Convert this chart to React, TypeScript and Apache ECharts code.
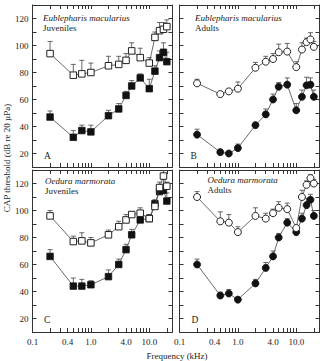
import React, { useEffect, useRef } from "react";
import * as echarts from "echarts";

// Stimulus frequencies (kHz), shared by every curve
const frequencies = [0.2, 0.5, 0.7, 1, 2, 3, 4, 5, 7, 10, 12.5, 15, 17.5, 20];

// Eublepharis macularius, juveniles
const eubJuvOpen = [94, 78, 79, 80, 85, 86, 89, 96, 91, 87, 106, 111, 112, 114];
const eubJuvOpenErr = [9, 8, 10, 7, 7, 6, 5, 6, 7, 4, 4, 6, 5, 5];
const eubJuvFilled = [47, 32, 37, 36, 48, 53, 63, 70, 76, 68, 81, 91, 95, 88];
const eubJuvFilledErr = [4.5, 5, 4, 5, 4, 4, 3, 4, 3, 7, 4, 5, 7, 7];

// Eublepharis macularius, adults
const eubAdOpen = [72, 64, 66, 68, 83.5, 88, 90, 95, 95.5, 84, 97, 102.5, 104.5, 99];
const eubAdOpenErr = [3, 0, 0, 5, 4, 4, 4, 6, 6, 4, 5, 3, 5, 4];
const eubAdFilled = [34, 21, 20, 24, 41, 49, 60, 69.5, 71, 52, 62, 70.5, 71, 62];
const eubAdFilledErr = [4, 0, 0, 3, 0, 4, 4, 3, 5, 5, 5, 6, 5, 5];

// Oedura marmorata, juveniles
const oedJuvOpen = [96, 77, 77.5, 76, 82, 88, 93, 97, 98, 94, 103, 117, 125.5, 118];
const oedJuvOpenErr = [4, 4, 6, 4, 3.5, 4, 4, 2, 4, 3, 3, 4, 4, 3];
const oedJuvFilled = [66, 44, 44, 45, 51, 60, 71, 82, 93, 94, 105, 114, 115, 107];
const oedJuvFilledErr = [5, 6, 5, 3, 5, 4, 4, 4, 3, 3, 3, 3, 8, 6];

// Oedura marmorata, adults
const oedAdOpen = [110, 92, 91, 84, 96, 94, 98, 102, 101, 87, 110, 119, 124, 120];
const oedAdOpenErr = [4, 7, 6, 4, 6, 4, 3, 4.5, 4.5, 0, 5, 3, 2.5, 3];
const oedAdFilled = [60, 37, 38.5, 34, 46, 57.5, 66, 80, 91, 84, 94, 104, 108, 96];
const oedAdFilledErr = [4, 2.5, 3, 0, 3, 4, 4, 3, 3, 0, 4, 5, 4, 4];

// Axis ticks and labels
const xMinKHz = 0.1;
const xMaxKHz = 25;
const xLabelKHz = [0.1, 0.4, 1, 4, 10];
const xTickKHz = [
  0.2, 0.3, 0.4, 0.5, 0.6, 0.7, 0.8, 0.9, 1, 2, 3, 4, 5, 6, 7, 8, 9, 10, 20,
];
const yMin = 10;
const yMax = 130;
const yLabelValues = [20, 40, 60, 80, 100, 120];

const SERIF = '"Liberation Serif", "DejaVu Serif", serif';
const INK = "#222";
const LINE = "#444";

const panels = [
  {
    species: "Eublepharis macularius", stage: "Juveniles", letter: "A",
    symbol: "rect", open: eubJuvOpen, openErr: eubJuvOpenErr,
    filled: eubJuvFilled, filledErr: eubJuvFilledErr,
    grid: { left: 32.5, top: 5, width: 140, height: 162 },
    textX: 43, textY: 17.5, letterX: 44, letterY: 156,
  },
  {
    species: "Eublepharis macularius", stage: "Adults", letter: "B",
    symbol: "circle", open: eubAdOpen, openErr: eubAdOpenErr,
    filled: eubAdFilled, filledErr: eubAdFilledErr,
    grid: { left: 179.5, top: 5, width: 140, height: 162 },
    textX: 195, textY: 17.5, letterX: 190.5, letterY: 156,
  },
  {
    species: "Oedura marmorata", stage: "Juveniles", letter: "C",
    symbol: "rect", open: oedJuvOpen, openErr: oedJuvOpenErr,
    filled: oedJuvFilled, filledErr: oedJuvFilledErr,
    grid: { left: 32.5, top: 170, width: 140, height: 162 },
    textX: 45, textY: 180.5, letterX: 44, letterY: 320,
  },
  {
    species: "Oedura marmorata", stage: "Adults", letter: "D",
    symbol: "circle", open: oedAdOpen, openErr: oedAdOpenErr,
    filled: oedAdFilled, filledErr: oedAdFilledErr,
    grid: { left: 179.5, top: 170, width: 140, height: 162 },
    textX: 207.5, textY: 180, letterX: 191.5, letterY: 320,
  },
];

const lg = (v: number) => Math.log10(v);

// Upward-only error bar with a short cap
function errorBarRenderer(params: any, api: any) {
  const x = api.value(0);
  const y = api.value(1);
  const e = api.value(2);
  if (!e) return { type: "group", children: [] };
  const p0 = api.coord([x, y]);
  const p1 = api.coord([x, y + e]);
  const style = { stroke: LINE, lineWidth: 0.8 };
  return {
    type: "group",
    children: [
      { type: "line", shape: { x1: p0[0], y1: p0[1], x2: p1[0], y2: p1[1] }, style },
      { type: "line", shape: { x1: p1[0] - 2.5, y1: p1[1], x2: p1[0] + 2.5, y2: p1[1] }, style },
    ],
  };
}

function buildOption() {
  const grid: any[] = [];
  const xAxis: any[] = [];
  const yAxis: any[] = [];
  const series: any[] = [];
  const graphic: any[] = [];

  const axisLine = { show: true, onZero: false, lineStyle: { color: "#333", width: 1 } };
  const tick = { show: true, inside: true, length: 4, lineStyle: { color: "#333", width: 1 } };
  const labelFont = { fontFamily: SERIF, fontSize: 9, color: INK };

  panels.forEach((p, g) => {
    grid.push({ ...p.grid, containLabel: false, outerBoundsMode: "none" });
    const showX = g >= 2;
    const showY = g % 2 === 0;
    ["bottom", "top"].forEach((pos) => {
      xAxis.push({
        type: "value",
        gridIndex: g,
        position: pos,
        min: lg(xMinKHz),
        max: lg(xMaxKHz),
        axisLine,
        axisTick: { ...tick, customValues: xTickKHz.map(lg) },
        axisLabel: {
          show: showX && pos === "bottom",
          ...labelFont,
          margin: 5,
          customValues: xLabelKHz.map(lg),
          formatter: (v: number) => Math.pow(10, v).toFixed(1),
        },
        splitLine: { show: false },
      });
    });
    ["left", "right"].forEach((pos) => {
      yAxis.push({
        type: "value",
        gridIndex: g,
        position: pos,
        min: yMin,
        max: yMax,
        interval: 10,
        axisLine,
        axisTick: tick,
        axisLabel: {
          show: showY && pos === "left",
          ...labelFont,
          margin: 4,
          formatter: (v: number) => (yLabelValues.includes(v) ? String(v) : ""),
        },
        splitLine: { show: false },
      });
    });

    const xi = 2 * g;
    const yi = 2 * g;
    const errData = (vals: number[], errs: number[]) =>
      frequencies.map((f, i) => [lg(f), vals[i], errs[i]]);
    const ptData = (vals: number[]) => frequencies.map((f, i) => [lg(f), vals[i]]);

    series.push({
      type: "custom", xAxisIndex: xi, yAxisIndex: yi, z: 1, silent: true,
      renderItem: errorBarRenderer, encode: { x: 0, y: 1 },
      data: errData(p.open, p.openErr),
    });
    series.push({
      type: "custom", xAxisIndex: xi, yAxisIndex: yi, z: 1, silent: true,
      renderItem: errorBarRenderer, encode: { x: 0, y: 1 },
      data: errData(p.filled, p.filledErr),
    });
    const size = p.symbol === "rect" ? 6.5 : 7;
    series.push({
      type: "line", xAxisIndex: xi, yAxisIndex: yi, z: 3, silent: true,
      data: ptData(p.filled), symbol: p.symbol, symbolSize: size, showSymbol: true,
      lineStyle: { color: LINE, width: 0.8 },
      itemStyle: { color: "#111", borderColor: "#111", borderWidth: 0.8 },
    });
    series.push({
      type: "line", xAxisIndex: xi, yAxisIndex: yi, z: 4, silent: true,
      data: ptData(p.open), symbol: p.symbol, symbolSize: size, showSymbol: true,
      lineStyle: { color: LINE, width: 0.8 },
      itemStyle: { color: "#fff", borderColor: "#222", borderWidth: 1 },
    });

    graphic.push({
      type: "text", x: p.textX, y: p.textY, z: 10,
      style: {
        text: p.species, fill: INK, fontFamily: SERIF, fontSize: 9,
        fontStyle: "italic", verticalAlign: "middle", align: "left",
      },
    });
    graphic.push({
      type: "text", x: p.textX, y: p.textY + 10, z: 10,
      style: {
        text: p.stage, fill: INK, fontFamily: SERIF, fontSize: 9,
        verticalAlign: "middle", align: "left",
      },
    });
    graphic.push({
      type: "text", x: p.letterX, y: p.letterY, z: 10,
      style: {
        text: p.letter, fill: INK, fontFamily: SERIF, fontSize: 9.5,
        verticalAlign: "middle", align: "left",
      },
    });
  });

  graphic.push({
    type: "text", x: 7, y: 158, rotation: Math.PI / 2,
    style: {
      text: "CAP threshold (dB re 20 \u00b5Pa)", fill: INK, fontFamily: SERIF,
      fontSize: 9, align: "center", verticalAlign: "middle",
    },
  });
  graphic.push({
    type: "text", x: 177, y: 356,
    style: {
      text: "Frequency (kHz)", fill: INK, fontFamily: SERIF, fontSize: 9,
      align: "center", verticalAlign: "middle",
    },
  });

  return {
    animation: false,
    backgroundColor: "#fff",
    grid,
    xAxis,
    yAxis,
    series,
    graphic,
  };
}

export default function App() {
  const ref = useRef<HTMLDivElement>(null);
  useEffect(() => {
    if (!ref.current) return;
    const chart = echarts.init(ref.current, undefined, { renderer: "svg" });
    chart.setOption(buildOption() as any);
    return () => chart.dispose();
  }, []);
  return (
    <div
      ref={ref}
      style={{ position: "absolute", left: 0, top: 0, width: 324, height: 361 }}
    />
  );
}
